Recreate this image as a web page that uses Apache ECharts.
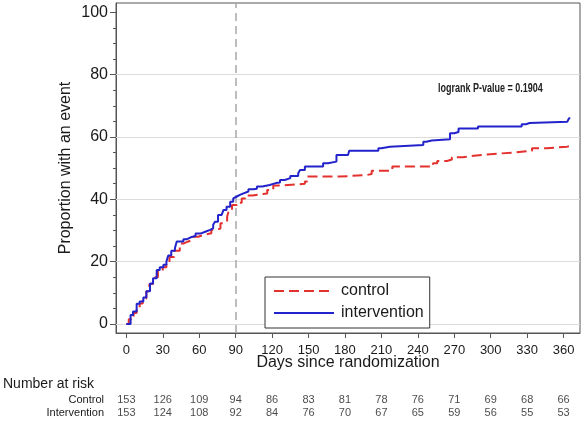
<!DOCTYPE html>
<html><head><meta charset="utf-8">
<script src="https://cdn.jsdelivr.net/npm/echarts@6/dist/echarts.min.js"></script>
<style>html,body{margin:0;padding:0;background:#fff}#c{width:583px;height:421px}</style>
</head><body><div id="c"></div>
<script>
const seriesNames = ['control', 'intervention'];
const controlCurve = [[0,0],[2,1.5],[4,2.5],[6,3.5],[8.5,5],[11,6.6],[13.5,8.2],[16.5,10.5],[19,12.8],[22,15],[26,17],[30,18.2],[33,19.5],[35.5,21.5],[39.5,23.5],[44,25.8],[47,26.4],[50.5,27],[55,28],[59,28.6],[64,29.1],[70,30.2],[74,30.6],[77.5,32.3],[81,32.8],[83,34.4],[84.5,36.6],[87,38.2],[91,38.9],[95,40.3],[98,41.2],[104,41.5],[109,41.9],[116,43],[121,44.4],[128,45],[147,45.7],[149,47.3],[176,47.8],[198,48.1],[202,49.2],[219,50.5],[252.5,51.6],[256,52.3],[264,52.8],[268,53.5],[277,54],[286,54.4],[297,55],[318,55.6],[334,56.4],[346,56.9],[363,57.1],[365,57.1]];
const interventionCurve = [[0,0],[3.5,2.9],[5.5,4],[8.5,6.5],[11,7.2],[14,8.5],[16.5,10.5],[19.5,13],[22,14.7],[25,17.3],[27.5,18.2],[30.5,19],[33,20],[34.5,22],[37,23.5],[40,24.3],[41.5,26.5],[47,27.2],[50,27.8],[53,28.2],[57,29],[61,29.6],[65,30.2],[69,30.7],[71.5,31.8],[73,32.8],[75.5,35],[78.5,35.5],[80,36.6],[82.5,37.6],[85.5,39.2],[88,40.3],[89.5,40.9],[91,41.4],[93.5,41.9],[96.5,42.5],[100.5,43.2],[104.5,43.4],[107.5,44.1],[112,44.6],[118,45.2],[123,45.4],[126.5,46.2],[130.5,46.8],[135,47.5],[141.5,48.4],[143,49.4],[147,50.5],[162,51.6],[166,52.1],[173,54.2],[182.5,54.5],[183.5,55.6],[207.5,56.4],[210,56.9],[217,57.4],[244.5,58.5],[247,58.9],[251.5,59.3],[266.5,61.2],[270,61.6],[273.5,62.7],[289.5,63.4],[325.5,64.1],[329,64.5],[332,64.9],[363,65.5],[364.5,66],[365.5,66]];
const xTicks = [0,30,60,90,120,150,180,210,240,270,300,330,360];
const yTicks = [0,20,40,60,80,100];
const yMinorTicks = [5,10,15,25,30,35,45,50,55,65,70,75,85,90,95];
const gridLines = [0,20,40,60,80];
const landmarkDay = 90;
const riskDays = [0,30,60,90,120,150,180,210,240,270,300,330,360];
const riskControl = [153,126,109,94,86,83,81,78,76,71,69,68,66];
const riskIntervention = [153,124,108,92,84,76,70,67,65,59,56,55,53];
const riskRows = ['Control', 'Intervention'];
const riskTitle = 'Number at risk';
const pValueText = 'logrank P-value = 0.1904';
const xTitle = 'Days since randomization';
const yTitle = 'Proportion with an event';

const FONT = "'Liberation Sans', Arial, sans-serif";
const TXT = '#1a1a1a';
const XMIN = -8.5, XMAX = 373.5, YMIN = -2.9, YMAX = 103;

const riskData = [];
riskDays.forEach((d, i) => {
  riskData.push([d, riskRows[0], riskControl[i]]);
  riskData.push([d, riskRows[1], riskIntervention[i]]);
});

const chart = echarts.init(document.getElementById('c'), null, {renderer: 'canvas'});
chart.setOption({
  animation: false,
  backgroundColor: '#fff',
  textStyle: {fontFamily: FONT},
  grid: [
    {left: 116, top: 3, right: 3, bottom: 88, show: true, borderColor: '#555', borderWidth: 1, containLabel: false},
    {left: 116, right: 3, top: 393.5, height: 26, show: false}
  ],
  xAxis: [
    {
      type: 'value', gridIndex: 0, min: XMIN, max: XMAX,
      name: xTitle, nameLocation: 'middle', nameGap: 22, nameMoveOverlap: false,
      nameTextStyle: {fontSize: 16, color: TXT, fontFamily: FONT, verticalAlign: 'top'},
      axisLine: {show: true, onZero: false, lineStyle: {color: '#555', width: 1}},
      axisTick: {show: true, customValues: xTicks, length: 5, lineStyle: {color: '#555'}},
      axisLabel: {show: true, customValues: xTicks, fontSize: 13, color: TXT, margin: 11},
      splitLine: {show: false}
    },
    {
      type: 'value', gridIndex: 1, min: XMIN, max: XMAX, show: false
    }
  ],
  yAxis: [
    {
      type: 'value', gridIndex: 0, min: YMIN, max: YMAX, position: 'left',
      name: yTitle, nameLocation: 'middle', nameGap: 42, nameMoveOverlap: false,
      nameTextStyle: {fontSize: 16, color: TXT, fontFamily: FONT},
      axisLine: {show: true, onZero: false, lineStyle: {color: '#555', width: 1}},
      axisTick: {show: true, customValues: yTicks, length: 6, lineStyle: {color: '#555'}},
      axisLabel: {show: true, customValues: yTicks, fontSize: 16, color: TXT, margin: 8},
      splitLine: {show: false}
    },
    {
      type: 'value', gridIndex: 0, min: YMIN, max: YMAX, position: 'left', offset: 0,
      axisLine: {show: false, onZero: false},
      axisTick: {show: true, customValues: yMinorTicks, length: 3, lineStyle: {color: '#555'}},
      axisLabel: {show: false},
      splitLine: {show: false}
    },
    {
      type: 'category', gridIndex: 1, data: riskRows, inverse: true,
      axisLine: {show: false, onZero: false}, axisTick: {show: false}, splitLine: {show: false},
      axisLabel: {show: true, interval: 0, fontSize: 11, color: TXT, margin: 12, align: 'right'}
    }
  ],
  legend: {
    data: seriesNames,
    orient: 'vertical', left: 265, top: 277,
    padding: [5, 6, 6, 8], itemGap: 4, itemWidth: 60, itemHeight: 18,
    backgroundColor: '#fff', borderColor: '#333', borderWidth: 1,
    itemStyle: {color: 'rgba(0,0,0,0)', borderWidth: 0, opacity: 0},
    textStyle: {fontSize: 16, color: TXT, fontFamily: FONT, lineHeight: 18, padding: [0, 0, 0, 2]}
  },
  graphic: [
    {type: 'text', left: 3, top: 377, style: {text: riskTitle, font: '14px ' + FONT, fill: TXT}},
    {type: 'text', x: 438, y: 83, scaleX: 0.75, style: {text: pValueText, font: 'bold 12px ' + FONT, fill: '#222'}}
  ],
  series: [
    {
      name: seriesNames[0], type: 'line', xAxisIndex: 0, yAxisIndex: 0,
      step: 'end', showSymbol: false, symbol: 'none', z: 3,
      data: controlCurve,
      lineStyle: {color: '#e3312d', width: 2, type: [10, 5]},
      itemStyle: {color: '#e3312d'},
      markLine: {
        silent: true, symbol: ['none', 'none'], label: {show: false}, z: 1,
        data: gridLines.map(v => ({yAxis: v, lineStyle: {color: '#dcdcdc', width: 1, type: 'solid'}}))
          .concat([{xAxis: landmarkDay, lineStyle: {color: '#a8a8a8', width: 1.5, type: [8, 5]}}])
      }
    },
    {
      name: seriesNames[1], type: 'line', xAxisIndex: 0, yAxisIndex: 0,
      step: 'end', showSymbol: false, symbol: 'none', z: 4,
      data: interventionCurve,
      lineStyle: {color: '#2323cc', width: 2, type: 'solid'},
      itemStyle: {color: '#2323cc'}
    },
    {
      name: 'risk', type: 'scatter', xAxisIndex: 1, yAxisIndex: 2,
      symbolSize: 1, itemStyle: {color: 'rgba(0,0,0,0)'},
      data: riskData, silent: true,
      label: {show: true, position: 'inside', formatter: p => String(p.value[2]), fontSize: 11, color: TXT}
    }
  ]
});
</script></body></html>
